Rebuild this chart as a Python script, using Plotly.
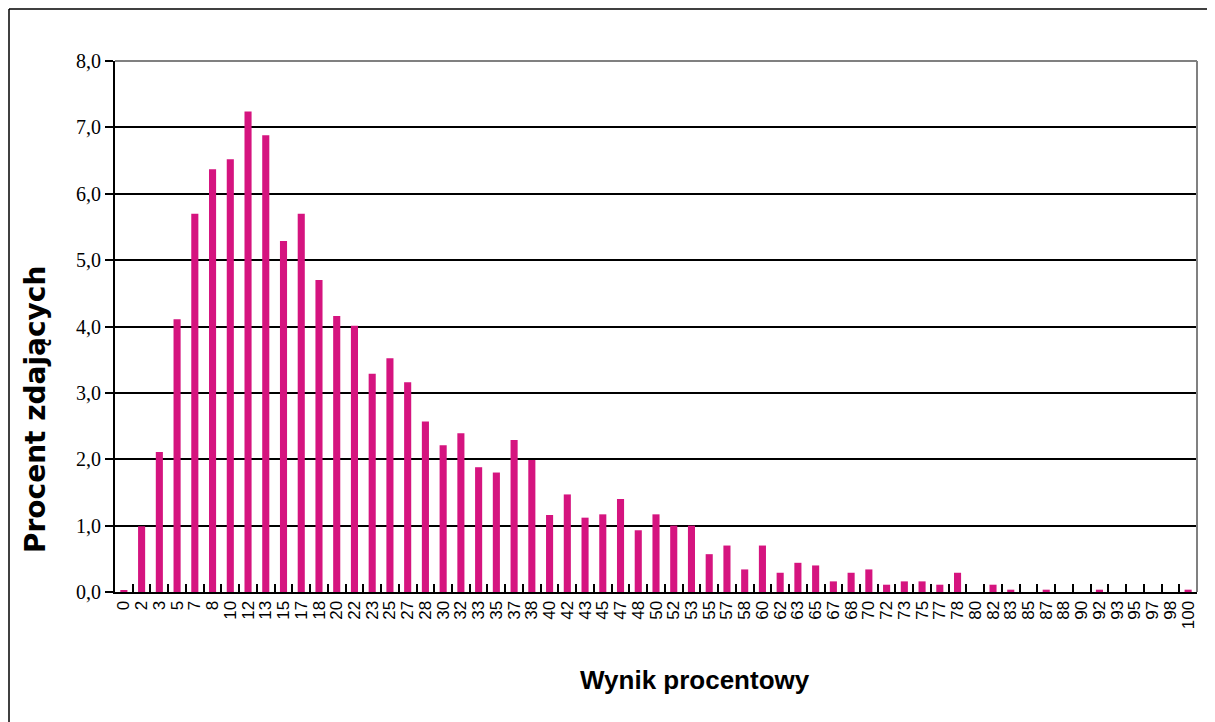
import plotly.graph_objects as go

categories = ["0", "2", "3", "5", "7", "8", "10", "12", "13", "15", "17", "18",
              "20", "22", "23", "25", "27", "28", "30", "32", "33", "35", "37", "38",
              "40", "42", "43", "45", "47", "48", "50", "52", "53", "55", "57", "58",
              "60", "62", "63", "65", "67", "68", "70", "72", "73", "75", "77", "78",
              "80", "82", "83", "85", "87", "88", "90", "92", "93", "95", "97", "98", "100"]
values = [0.03, 0.99, 2.11, 4.11, 5.70, 6.37, 6.52, 7.24, 6.88, 5.29, 5.70, 4.70,
          4.16, 4.01, 3.29, 3.52, 3.16, 2.57, 2.21, 2.39, 1.88, 1.80, 2.29, 1.99,
          1.16, 1.47, 1.12, 1.17, 1.40, 0.93, 1.17, 1.00, 1.00, 0.57, 0.70, 0.34,
          0.70, 0.29, 0.44, 0.40, 0.16, 0.29, 0.34, 0.11, 0.16, 0.16, 0.11, 0.29,
          0.0, 0.11, 0.035, 0.0, 0.035, 0.0, 0.0, 0.035, 0.0, 0.0, 0.0, 0.0, 0.035]
y_ticks = [0, 1, 2, 3, 4, 5, 6, 7, 8]

OFF = 8  # page body margin
W, H = 1215 - OFF, 722 - OFF
L, R, T, B = 115 - OFF, 18, 61 - OFF, 130
pw, ph = W - L - R, H - T - B

def px(x):  # page pixel -> paper
    return (x - OFF - L) / pw

def py(y):
    return 1 - (y - OFF - T) / ph

fig = go.Figure(go.Bar(x=categories, y=values, marker=dict(color="#D5147F", line=dict(width=0))))

fig.update_layout(
    width=W, height=H,
    margin=dict(l=L, r=R, t=T, b=B),
    paper_bgcolor="white", plot_bgcolor="white",
    bargap=0.6,
    separators=", ",
    showlegend=False,
    xaxis=dict(
        type="category",
        tickmode="array", tickvals=categories, ticktext=categories,
        tickangle=-90,
        tickfont=dict(family="Liberation Sans, Arial", size=17, color="black"),
        ticks="inside", tickson="boundaries", ticklen=8, tickcolor="black", tickwidth=1.5,
        showline=True, linecolor="black", linewidth=2,
        showgrid=False,
    ),
    yaxis=dict(
        range=[0, 8],
        tickvals=y_ticks,
        tickformat=".1f",
        tickfont=dict(family="Liberation Serif, Times New Roman", size=20, color="black"),
        ticks="outside", ticklen=8, tickcolor="black", tickwidth=1.5,
        showline=True, linecolor="black", linewidth=2,
        showgrid=True, gridcolor="black", gridwidth=1.5,
        zeroline=False,
    ),
    shapes=[
        dict(type="line", xref="paper", yref="paper", x0=0, x1=1, y0=1, y1=1,
             line=dict(color="#808080", width=2)),
        dict(type="line", xref="paper", yref="paper", x0=1, x1=1, y0=0, y1=1,
             line=dict(color="#808080", width=2)),
        dict(type="line", xref="paper", yref="paper", x0=px(9), x1=px(9), y0=py(9), y1=py(722),
             line=dict(color="black", width=1.5)),
        dict(type="line", xref="paper", yref="paper", x0=px(9), x1=px(1215), y0=py(9), y1=py(9),
             line=dict(color="black", width=1.5)),
    ],
    annotations=[
        dict(text="<b>Procent zdających</b>", xref="paper", yref="paper",
             x=px(35), y=py(410), textangle=-90, showarrow=False,
             xanchor="center", yanchor="middle",
             font=dict(family="DejaVu Sans, Verdana", size=28, color="black")),
        dict(text="<b>Wynik procentowy</b>", xref="paper", yref="paper",
             x=px(695), y=py(680), showarrow=False,
             xanchor="center", yanchor="middle",
             font=dict(family="Liberation Sans, Arial", size=26, color="black")),
    ],
)

fig.write_html("out.html")
